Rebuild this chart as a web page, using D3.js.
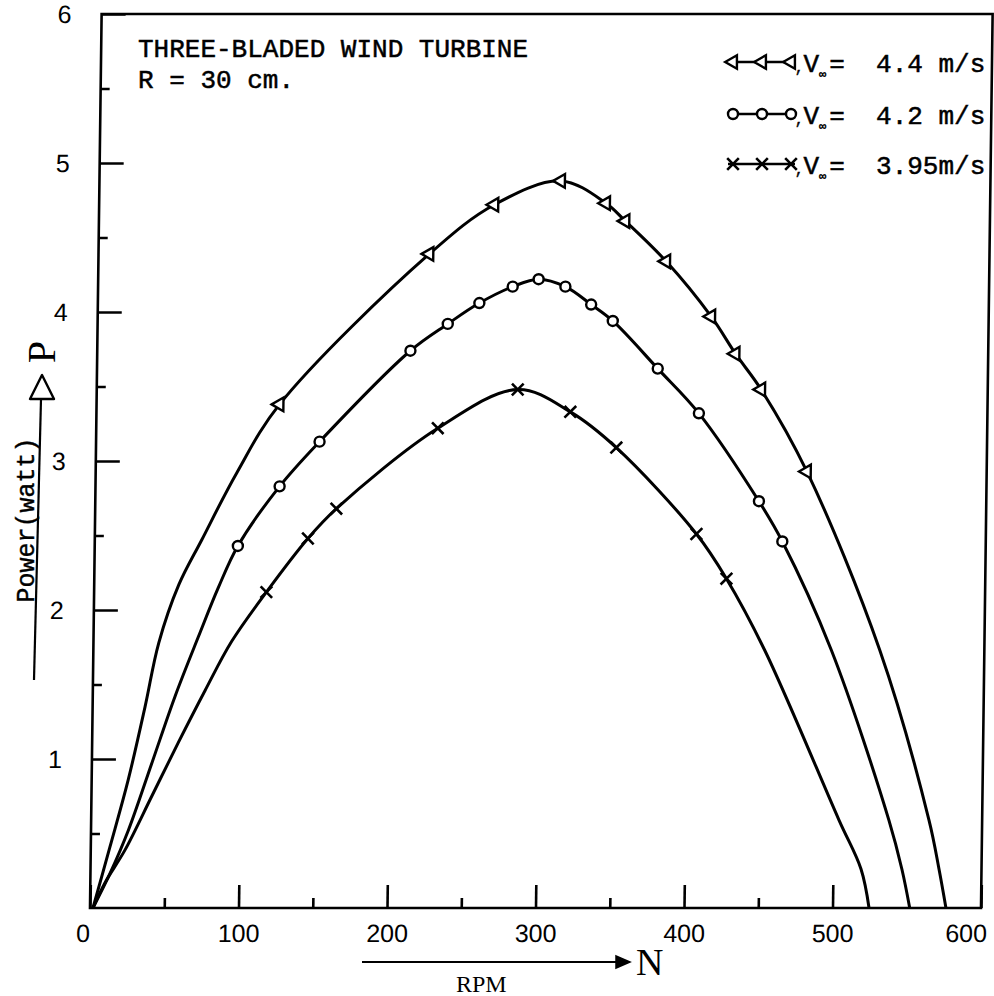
<!DOCTYPE html>
<html><head><meta charset="utf-8">
<script src="https://cdn.jsdelivr.net/npm/d3@7"></script>
<style>body{margin:0;background:#fff}</style>
</head><body>
<svg id="c" width="994" height="996"></svg>
<script>
// ---------- data ----------
const xTicks = [0, 100, 200, 300, 400, 500, 600];
const xMinor = [50, 150, 250, 350, 450];
const yTicks = [1, 2, 3, 4, 5, 6];
const yMinor = [0.5, 1.5, 2.5, 3.5, 4.5, 5.5];
const titleLines = ["THREE-BLADED WIND TURBINE", "R = 30 cm."];
const legendLabels = ["=  4.4 m/s", "=  4.2 m/s", "=  3.95m/s"];

// V = 4.4 m/s (triangles)
const markA = [[123.2,3.38],[222.8,4.39],[266.1,4.72],[310.8,4.88],[341.3,4.73],[354.5,4.61],
  [382.3,4.34],[413.1,3.97],[429.8,3.72],[447.4,3.48],[478.9,2.93]];
const curveA = [[2,0],[12.9,0.41],[24.6,0.86],[35.3,1.35],[44,1.78],[57,2.17],[72,2.47],
  [95,2.92],[529.6,1.73],[564.2,0.59],[571.4,0.26],[576.4,0]];
// V = 4.2 m/s (circles)
const markB = [[96.4,2.43],[124.0,2.83],[150.5,3.13],[210.9,3.74],[235.8,3.92],[256.9,4.06],
  [279.2,4.17],[296.6,4.22],[314.7,4.17],[332.2,4.05],[346.9,3.94],[377.6,3.62],[405.7,3.32],
  [446.9,2.73],[463.0,2.46]];
const curveB = [[2,0],[13.1,0.23],[25.1,0.52],[40.3,0.97],[55.4,1.42],[70.6,1.82],[83.6,2.15],
  [497.0,1.73],[537.2,0.59],[546.4,0.26],[552,0]];
// V = 3.95 m/s (crosses)
const markC = [[116.0,2.12],[143.5,2.48],[162.4,2.68],[230.0,3.22],[283.5,3.48],[319.1,3.33],
  [350.4,3.09],[405.1,2.51],[425.7,2.21]];
const curveC = [[2,0],[9.9,0.17],[23.1,0.39],[40.6,0.75],[58.0,1.11],[75.6,1.46],[93.1,1.79],
  [452.1,1.73],[503.6,0.59],[518.9,0.26],[524.6,0]];

// ---------- chart ----------
const svg = d3.select("#c");
const x = d3.scaleLinear().domain([0, 600]).range([90, 981]);
const y = d3.scaleLinear().domain([0, 6]).range([908, 14]);
const skew = -Math.atan(0.013) * 180 / Math.PI;
const g = svg.append("g").attr("transform", `translate(0,908) skewX(${skew}) translate(0,-908)`);

const AX = 2.6;
g.append("path")
  .attr("d", `M${x(0)},${y(0)}L${x(0)},${y(6)}L${x(600)},${y(6)}L${x(600)},${y(0)}Z`)
  .attr("fill", "none").attr("stroke", "#000").attr("stroke-width", AX);

const tickFont = "'Liberation Sans', Arial, sans-serif";
function styleAxis(sel) {
  sel.select(".domain").remove();
  sel.selectAll("line").attr("stroke", "#000").attr("stroke-width", AX);
  sel.selectAll("text").attr("font-family", tickFont).attr("font-size", 25).attr("fill", "#000");
}
const xAxisG = g.append("g").attr("transform", `translate(0,${y(0)})`)
  .call(d3.axisBottom(x).tickValues(xTicks).tickFormat(d3.format("d")).tickSize(-23).tickPadding(16))
  .call(styleAxis);
xAxisG.selectAll(".tick text").attr("dx", d => d === 0 ? -7 : d === 600 ? -15 : 0);
g.append("g").attr("transform", `translate(0,${y(0)})`)
  .call(d3.axisBottom(x).tickValues(xMinor).tickFormat("").tickSize(-10))
  .call(styleAxis);
g.append("g").attr("transform", `translate(${x(0)},0)`)
  .call(d3.axisLeft(y).tickValues(yTicks).tickFormat(d3.format("d")).tickSize(-24).tickPadding(30))
  .call(styleAxis);
g.append("g").attr("transform", `translate(${x(0)},0)`)
  .call(d3.axisLeft(y).tickValues(yMinor).tickFormat("").tickSize(-9))
  .call(styleAxis);

const series = [
  { marks: markA, curve: curveA, sym: "tri" },
  { marks: markB, curve: curveB, sym: "circ" },
  { marks: markC, curve: curveC, sym: "x" }
];
const line = d3.line().x(d => x(d[0])).y(d => y(d[1])).curve(d3.curveCatmullRom.alpha(0.5));

function drawSymbol(sel, type) {
  if (type === "tri") {
    sel.append("path").attr("d", d3.symbol(d3.symbolTriangle, 80)())
      .attr("transform", "rotate(-90)")
      .attr("fill", "#fff").attr("stroke", "#000").attr("stroke-width", 2.4);
  } else if (type === "circ") {
    sel.append("circle").attr("r", 5)
      .attr("fill", "#fff").attr("stroke", "#000").attr("stroke-width", 2.4);
  } else {
    sel.append("path").attr("d", d3.symbol(d3.symbolTimes, 90)())
      .attr("fill", "none").attr("stroke", "#000").attr("stroke-width", 2.6);
  }
}

series.forEach(s => {
  const pts = s.curve.concat(s.marks).sort((a, b) => a[0] - b[0]);
  g.append("path").datum(pts).attr("d", line)
    .attr("fill", "none").attr("stroke", "#000").attr("stroke-width", 3)
    .attr("stroke-linejoin", "round");
  g.selectAll(null).data(s.marks).enter().append("g")
    .attr("transform", d => `translate(${x(d[0])},${y(d[1])})`)
    .each(function () { drawSymbol(d3.select(this), s.sym); });
});

// ---------- texts ----------
const mono = "'Liberation Mono', 'Courier New', monospace";
const serif = "'Liberation Serif', 'Times New Roman', serif";
titleLines.forEach((t, i) => {
  svg.append("text").attr("x", 138).attr("y", 57 + i * 31).text(t)
    .attr("font-family", mono).attr("font-size", 26).attr("fill", "#000")
    .attr("stroke", "#000").attr("stroke-width", 0.5);
});

// legend
const legBase = [72, 124, 174];
const legMarkX = [733, 762, 791];
series.forEach((s, i) => {
  const by = legBase[i], my = by - 10;
  svg.append("line").attr("x1", 728).attr("x2", 795).attr("y1", my).attr("y2", my)
    .attr("stroke", "#000").attr("stroke-width", 2.4);
  legMarkX.forEach(mx => {
    const gg = svg.append("g").attr("transform", `translate(${mx},${my})`);
    drawSymbol(gg, s.sym);
  });
  const t = svg.append("text").attr("x", 795).attr("y", by)
    .attr("font-family", mono).attr("font-size", 26).attr("fill", "#000")
    .attr("stroke", "#000").attr("stroke-width", 0.5);
  t.append("tspan").attr("font-size", 14).text(",");
  t.append("tspan").text("V");
  t.append("tspan").attr("dy", 6).attr("font-size", 12).text("\u221E");
  t.append("tspan").attr("dy", -6).attr("dx", 3).text(legendLabels[i]);
  t.style("white-space", "pre");
});

// y axis title
svg.append("text").attr("transform", "translate(34,520) rotate(-90)")
  .attr("text-anchor", "middle").text("Power(watt)")
  .attr("font-family", mono).attr("font-size", 25).attr("fill", "#000")
  .attr("stroke", "#000").attr("stroke-width", 0.4);
svg.append("line").attr("x1", 41).attr("y1", 399).attr("x2", 34).attr("y2", 680)
  .attr("stroke", "#000").attr("stroke-width", 2.2);
svg.append("path").attr("d", "M42,375L30,399L54,399Z")
  .attr("fill", "#fff").attr("stroke", "#000").attr("stroke-width", 2.4).attr("stroke-linejoin", "round");
svg.append("text").attr("transform", "translate(55,352) rotate(-90)")
  .attr("text-anchor", "middle").text("P")
  .attr("font-family", serif).attr("font-size", 40).attr("fill", "#000");

// x axis title
svg.append("line").attr("x1", 362).attr("x2", 616).attr("y1", 962).attr("y2", 962)
  .attr("stroke", "#000").attr("stroke-width", 2.2);
svg.append("path").attr("d", "M616,956L630,962L616,968Z")
  .attr("fill", "#000").attr("stroke", "#000").attr("stroke-width", 1.5);
svg.append("text").attr("x", 456).attr("y", 992).text("RPM")
  .attr("font-family", serif).attr("font-size", 24).attr("fill", "#000");
svg.append("text").attr("x", 636).attr("y", 975).text("N")
  .attr("font-family", serif).attr("font-size", 38).attr("fill", "#000");
</script>
</body></html>
